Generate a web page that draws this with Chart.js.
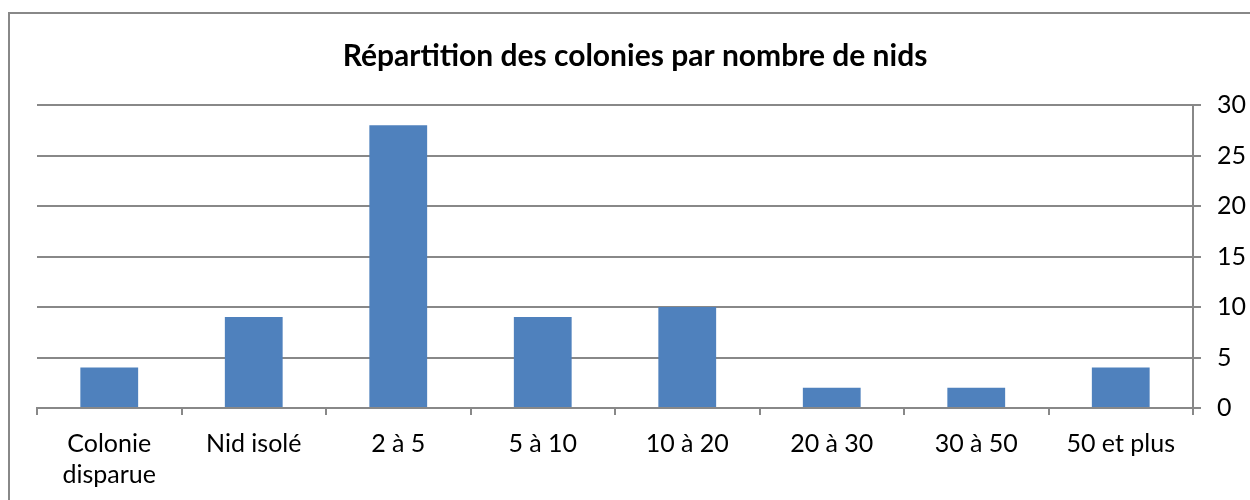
<!DOCTYPE html>
<html>
<head>
<meta charset="utf-8">
<script src="https://cdn.jsdelivr.net/npm/chart.js@4.4.1/dist/chart.umd.min.js"></script>
<style>
  html, body { margin: 0; padding: 0; background: #fff; overflow: hidden; }
  #wrap { position: relative; width: 1250px; height: 500px; }
  #frame { position: absolute; left: 8px; top: 12px; width: 1300px; height: 600px; border: 2px solid #888; box-sizing: border-box; }
  canvas { position: absolute; left: 0; top: 0; }
</style>
</head>
<body>
<div id="wrap">
  <div id="frame"></div>
  <canvas id="c" width="1250" height="500"></canvas>
</div>
<script>
const categories = [["Colonie", "disparue"], "Nid isolé", "2 à 5", "5 à 10", "10 à 20", "20 à 30", "30 à 50", "50 et plus"];
const values = [4, 9, 28, 9, 10, 2, 2, 4];
const yTicks = [0, 5, 10, 15, 20, 25, 30];
const title = "Répartition des colonies par nombre de nids";

const FONT = "Lato, Carlito, 'Liberation Sans', sans-serif";

new Chart(document.getElementById('c'), {
  type: 'bar',
  data: {
    labels: categories,
    datasets: [{
      data: values,
      backgroundColor: '#4F81BD',
      borderWidth: 0,
      barPercentage: 0.4,
      categoryPercentage: 1.0
    }]
  },
  options: {
    responsive: false,
    animation: false,
    devicePixelRatio: 1,
    layout: { padding: { left: 20, right: 0, top: 0, bottom: 0 } },
    plugins: {
      legend: { display: false },
      tooltip: { enabled: false },
      title: {
        display: true,
        text: title,
        color: '#000',
        font: { family: FONT, size: 30, weight: 'bold', lineHeight: 1.2 },
        padding: { top: 38, bottom: 31 }
      }
    },
    scales: {
      x: {
        grid: { display: true, drawOnChartArea: false, drawTicks: true, tickLength: 7, color: '#888', lineWidth: 2, offset: true },
        border: { display: true, color: '#888', width: 2 },
        ticks: { color: '#000', font: { family: FONT, size: 25, lineHeight: 1.25 }, padding: 13, maxRotation: 0, autoSkip: false },
        afterFit: s => { s.height = 92; }
      },
      y: {
        position: 'right',
        min: 0, max: 30,
        afterBuildTicks: s => { s.ticks = yTicks.map(v => ({ value: v })); },
        grid: { color: '#888', lineWidth: 2, drawTicks: true, tickLength: 8 },
        border: { display: true, color: '#888', width: 2 },
        ticks: { color: '#000', font: { family: FONT, size: 25 }, padding: 16 },
        afterFit: s => { s.width = 57; }
      },
      spacer: {
        type: 'linear',
        position: 'left',
        display: true,
        grid: { display: false },
        border: { display: false },
        ticks: { display: false },
        afterFit: s => { s.width = 17; }
      }
    }
  }
});
</script>
</body>
</html>
